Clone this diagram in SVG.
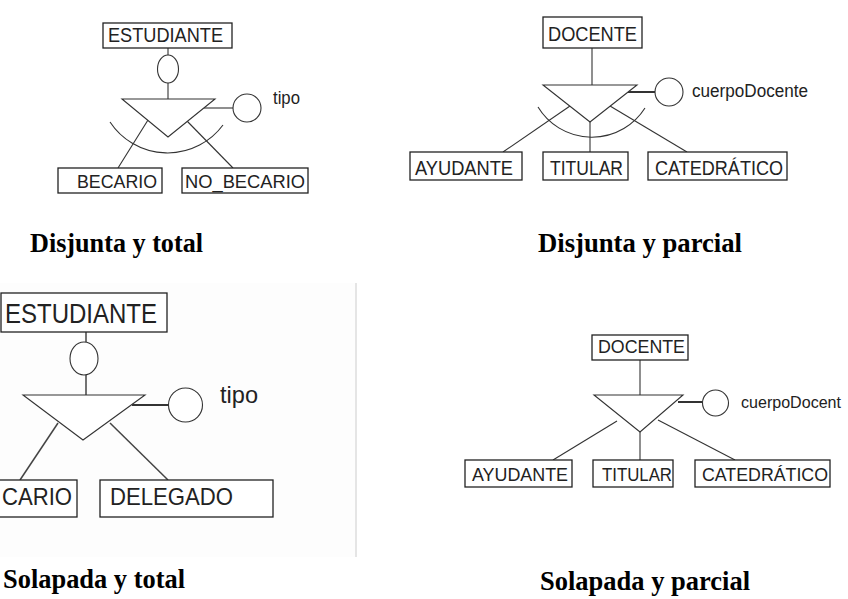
<svg xmlns="http://www.w3.org/2000/svg" width="848" height="599" viewBox="0 0 848 599">
<style>
.bx{fill:#fff;stroke:#222;stroke-width:1.3}
.ln{fill:none;stroke:#333;stroke-width:1.1}
.lt{fill:none;stroke:#333;stroke-width:2}
.lm{fill:none;stroke:#444;stroke-width:1.5}
.sh{fill:#fff;stroke:#333;stroke-width:1.1}
.t{font-family:"Liberation Sans",Arial,sans-serif;fill:#222}
.cap{font-family:"Liberation Serif","Times New Roman",serif;font-weight:bold;font-size:26.5px;fill:#000}
</style>
<rect x="0" y="0" width="848" height="599" fill="#fff"/>
<rect x="0" y="283" width="355" height="274" fill="#fdfdfd"/>
<line x1="356" y1="283" x2="356" y2="557" stroke="#ddd" stroke-width="1.5"/>

<!-- Quadrant 1: Disjunta y total -->
<g id="connectors-q1">
<line class="ln" x1="168" y1="47" x2="168" y2="55"/>
<line class="ln" x1="168" y1="83" x2="168" y2="99"/>
<line class="ln" x1="204" y1="108" x2="233" y2="108"/>
<path class="ln" d="M110,122 A69,69 0 0 0 223,125"/>
<line class="ln" x1="148" y1="120" x2="118" y2="168"/>
<line class="ln" x1="187" y1="121" x2="233" y2="168"/>
</g>
<g id="q1-estudiante"><rect class="bx" x="103" y="23" width="129" height="25"/><text class="t" x="108" y="42" font-size="20" textLength="115" lengthAdjust="spacingAndGlyphs">ESTUDIANTE</text></g>
<g id="q1-ellipse"><ellipse class="sh" cx="168" cy="69" rx="10.5" ry="14"/></g>
<g id="q1-triangle"><polygon class="sh" points="122,99 215,99 168,137"/></g>
<g id="q1-tipo"><circle class="sh" cx="247" cy="108" r="14"/><text class="t" x="273" y="104" font-size="18" textLength="27" lengthAdjust="spacingAndGlyphs">tipo</text></g>
<g id="q1-becario"><rect class="bx" x="58" y="168" width="104" height="25"/><text class="t" x="77" y="188" font-size="18" textLength="80" lengthAdjust="spacingAndGlyphs">BECARIO</text></g>
<g id="q1-nobecario"><rect class="bx" x="182" y="168" width="126" height="25"/><text class="t" x="185" y="188" font-size="18" textLength="120" lengthAdjust="spacingAndGlyphs">NO_BECARIO</text></g>
<text class="cap" x="30" y="252" textLength="173" lengthAdjust="spacingAndGlyphs">Disjunta y total</text>

<!-- Quadrant 2: Disjunta y parcial -->
<g id="connectors-q2">
<line class="ln" x1="592" y1="48" x2="592" y2="85"/>
<line class="lt" x1="628" y1="92" x2="655" y2="92"/>
<path class="ln" d="M538,107 A63,63 0 0 0 645,108"/>
<line class="ln" x1="570" y1="106" x2="503" y2="152"/>
<line class="ln" x1="610" y1="106" x2="687" y2="152"/>
<line class="ln" x1="590" y1="122" x2="590" y2="152"/>
</g>
<g id="q2-docente"><rect class="bx" x="543" y="17" width="99" height="31"/><text class="t" x="548" y="41" font-size="20" textLength="89" lengthAdjust="spacingAndGlyphs">DOCENTE</text></g>
<g id="q2-triangle"><polygon class="sh" points="543,85 637,85 590,122"/></g>
<g id="q2-cuerpo"><circle class="sh" cx="669" cy="92" r="14"/><text class="t" x="692" y="97" font-size="18" textLength="116" lengthAdjust="spacingAndGlyphs">cuerpoDocente</text></g>
<g id="q2-ayudante"><rect class="bx" x="410" y="152" width="112" height="28"/><text class="t" x="415" y="175" font-size="20" textLength="98" lengthAdjust="spacingAndGlyphs">AYUDANTE</text></g>
<g id="q2-titular"><rect class="bx" x="543" y="152" width="85" height="28"/><text class="t" x="550" y="175" font-size="20" textLength="73" lengthAdjust="spacingAndGlyphs">TITULAR</text></g>
<g id="q2-catedratico"><rect class="bx" x="648" y="152" width="139" height="28"/><text class="t" x="655" y="175" font-size="20" textLength="128" lengthAdjust="spacingAndGlyphs">CATEDRÁTICO</text></g>
<text class="cap" x="538" y="252" textLength="204" lengthAdjust="spacingAndGlyphs">Disjunta y parcial</text>

<!-- Quadrant 3: Solapada y total -->
<g id="connectors-q3">
<line class="lm" x1="86" y1="332" x2="86" y2="342"/>
<line class="lm" x1="86" y1="375" x2="86" y2="395"/>
<line class="lt" x1="132" y1="405" x2="168" y2="405"/>
<line class="lm" x1="58" y1="423" x2="20" y2="480"/>
<line class="lm" x1="110" y1="423" x2="168" y2="480"/>
</g>
<g id="q3-estudiante"><rect class="bx" x="1" y="293" width="166" height="39" stroke-width="2"/><text class="t" x="5" y="323" font-size="28" textLength="152" lengthAdjust="spacingAndGlyphs">ESTUDIANTE</text></g>
<g id="q3-ellipse"><ellipse class="sh" cx="84" cy="358.5" rx="14" ry="16.5" stroke-width="1.5"/></g>
<g id="q3-triangle"><polygon class="sh" points="23,395 145,395 83,440" stroke-width="1.5"/></g>
<g id="q3-tipo"><circle class="sh" cx="185.5" cy="405" r="17" stroke-width="1.5"/><text class="t" x="220" y="403" font-size="24" textLength="38" lengthAdjust="spacingAndGlyphs">tipo</text></g>
<g id="q3-becario"><rect class="bx" x="-5" y="480" width="82" height="37" stroke-width="2"/><text class="t" x="2" y="505" font-size="24" textLength="70" lengthAdjust="spacingAndGlyphs">CARIO</text></g>
<g id="q3-delegado"><rect class="bx" x="100" y="480" width="173" height="37" stroke-width="2"/><text class="t" x="110" y="505" font-size="24" textLength="123" lengthAdjust="spacingAndGlyphs">DELEGADO</text></g>
<text class="cap" x="3" y="588" textLength="182" lengthAdjust="spacingAndGlyphs">Solapada y total</text>

<!-- Quadrant 4: Solapada y parcial -->
<g id="connectors-q4">
<line class="ln" x1="640" y1="360" x2="640" y2="395"/>
<line class="lt" x1="678" y1="402" x2="703" y2="402"/>
<line class="ln" x1="617" y1="421" x2="553" y2="460"/>
<line class="ln" x1="658" y1="420" x2="735" y2="460"/>
<line class="ln" x1="640" y1="432" x2="640" y2="460"/>
</g>
<g id="q4-docente"><rect class="bx" x="592" y="335" width="96" height="25"/><text class="t" x="598" y="353" font-size="18" textLength="87" lengthAdjust="spacingAndGlyphs">DOCENTE</text></g>
<g id="q4-triangle"><polygon class="sh" points="594,395 683,395 640,432"/></g>
<g id="q4-cuerpo"><circle class="sh" cx="715.5" cy="403" r="13"/><text class="t" x="741" y="408" font-size="16.5" textLength="100" lengthAdjust="spacingAndGlyphs">cuerpoDocent</text></g>
<g id="q4-ayudante"><rect class="bx" x="465" y="460" width="107" height="27"/><text class="t" x="472" y="481" font-size="18" textLength="96" lengthAdjust="spacingAndGlyphs">AYUDANTE</text></g>
<g id="q4-titular"><rect class="bx" x="593" y="460" width="80" height="27"/><text class="t" x="602" y="481" font-size="18" textLength="70" lengthAdjust="spacingAndGlyphs">TITULAR</text></g>
<g id="q4-catedratico"><rect class="bx" x="695" y="460" width="135" height="27"/><text class="t" x="702" y="481" font-size="18" textLength="126" lengthAdjust="spacingAndGlyphs">CATEDRÁTICO</text></g>
<text class="cap" x="540" y="590" textLength="210" lengthAdjust="spacingAndGlyphs">Solapada y parcial</text>
</svg>
